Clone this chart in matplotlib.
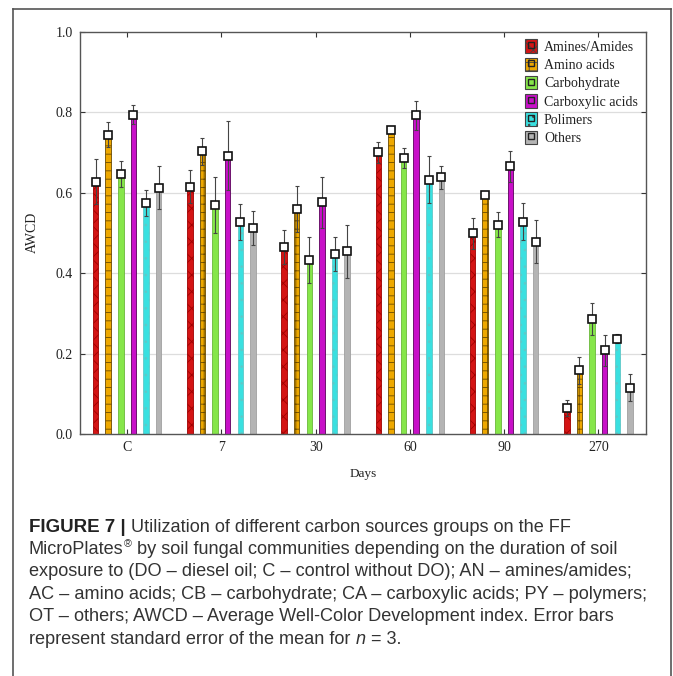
import matplotlib
matplotlib.use("Agg")
import matplotlib.pyplot as plt
import numpy as np
from matplotlib.patches import Patch
from matplotlib.lines import Line2D

# ---------------- data ----------------
days = ["C", "7", "30", "60", "90", "270"]
series_names = ["Amines/Amides", "Amino acids", "Carbohydrate",
                "Carboxylic acids", "Polimers", "Others"]
amines = [0.627, 0.615, 0.464, 0.700, 0.499, 0.065]
amines_err = [0.056, 0.040, 0.042, 0.026, 0.039, 0.020]
amino = [0.744, 0.703, 0.560, 0.756, 0.593, 0.158]
amino_err = [0.031, 0.034, 0.057, 0.006, 0.005, 0.034]
carbo = [0.646, 0.569, 0.433, 0.686, 0.520, 0.285]
carbo_err = [0.032, 0.070, 0.057, 0.026, 0.031, 0.040]
carbox = [0.794, 0.692, 0.576, 0.792, 0.665, 0.208]
carbox_err = [0.023, 0.085, 0.064, 0.036, 0.039, 0.038]
polim = [0.575, 0.526, 0.448, 0.632, 0.527, 0.237]
polim_err = [0.032, 0.045, 0.042, 0.058, 0.046, 0.012]
others = [0.612, 0.512, 0.454, 0.638, 0.478, 0.115]
others_err = [0.053, 0.043, 0.065, 0.029, 0.053, 0.033]

values = [amines, amino, carbo, carbox, polim, others]
errors = [amines_err, amino_err, carbo_err, carbox_err, polim_err, others_err]

colors = ["#d41414", "#eea800", "#86e64a", "#c810c8", "#3ae0e0", "#b4b4b4"]
edges = ["#a00000", "#6a4a00", "#6ab83a", "#5a005a", "#60c8c8", "#a0a0a0"]
hatches = ["xx", "++", None, None, "..", None]

caption_lines = [
    [("FIGURE 7 | ", "bold", "normal"),
     ("Utilization of different carbon sources groups on the FF", "normal", "normal")],
    [("MicroPlates", "normal", "normal"), ("®", "sup", "normal"),
     (" by soil fungal communities depending on the duration of soil", "normal", "normal")],
    [("exposure to (DO – diesel oil; C – control without DO); AN – amines/amides;", "normal", "normal")],
    [("AC – amino acids; CB – carbohydrate; CA – carboxylic acids; PY – polymers;", "normal", "normal")],
    [("OT – others; AWCD – Average Well-Color Development index. Error bars", "normal", "normal")],
    [("represent standard error of the mean for ", "normal", "normal"), ("n", "normal", "italic"),
     (" = 3.", "normal", "normal")],
]

# ---------------- figure ----------------
W, H = 673, 676
fig = plt.figure(figsize=(W / 100, H / 100), dpi=100)
serif = ["Liberation Serif", "DejaVu Serif"]
plt.rcParams["hatch.linewidth"] = 0.6

ax = fig.add_axes([80 / W, 1 - 434 / H, (645.5 - 80) / W, (434 - 31.7) / H])

x = np.arange(len(days))
step = 0.134
width = 0.058
for i, (vals, errs) in enumerate(zip(values, errors)):
    pos = x + (i - 2.5) * step
    ax.bar(pos, vals, width=width, color=colors[i], edgecolor=edges[i],
           hatch=hatches[i], linewidth=0.6, zorder=2)
    ax.errorbar(pos, vals, yerr=errs, fmt="none", ecolor="#444444",
                elinewidth=0.8, capsize=1.5, capthick=0.8, zorder=3)
    ax.plot(pos, vals, "s", markersize=5.5, markerfacecolor="white",
            markeredgecolor="#111111", markeredgewidth=1.2, zorder=4)

ax.set_xlim(-0.5, 5.5)
ax.set_ylim(0, 1.0)
ax.set_xticks(x)
ax.set_xticklabels(days, family=serif, fontsize=10)
ax.set_yticks([0, 0.2, 0.4, 0.6, 0.8, 1.0])
ax.set_yticklabels(["0.0", "0.2", "0.4", "0.6", "0.8", "1.0"], family=serif, fontsize=10)
ax.tick_params(direction="in", length=3.5, width=0.8, top=True, right=True,
               colors="#333333", labelcolor="#222222", pad=5)
for g in [0.2, 0.4, 0.6, 0.8]:
    ax.axhline(g, color="#dddddd", linewidth=0.9, zorder=0)
for s in ax.spines.values():
    s.set_color("#555555")
    s.set_linewidth(1.0)
ax.set_xlabel("Days", family=serif, fontsize=9.5, labelpad=10, color="#222222")
ax.set_ylabel("AWCD", family=serif, fontsize=10, labelpad=12, color="#222222")

handles = []
for i in range(6):
    p = Patch(facecolor=colors[i], edgecolor="#444444", hatch=hatches[i], linewidth=0.8)
    m = Line2D([], [], marker="s", linestyle="none", markersize=4.5,
               markerfacecolor="none", markeredgecolor="#222222", markeredgewidth=1.0)
    handles.append((p, m))
leg = ax.legend(handles, series_names, loc="upper right", bbox_to_anchor=(1.0, 1.0),
                frameon=False, prop={"family": serif, "size": 10},
                handlelength=0.9, handleheight=1.1, handletextpad=0.5,
                labelspacing=0.28, borderaxespad=0.15)
for t in leg.get_texts():
    t.set_color("#222222")

# outer frame
frame_c = "#555555"
fig.add_artist(Line2D([13 / W, 13 / W], [0, 1 - 8.5 / H], transform=fig.transFigure, color=frame_c, lw=1.2))
fig.add_artist(Line2D([13 / W, 671 / W], [1 - 8.5 / H, 1 - 8.5 / H], transform=fig.transFigure, color=frame_c, lw=1.2))
fig.add_artist(Line2D([671 / W, 671 / W], [0, 1 - 8.5 / H], transform=fig.transFigure, color=frame_c, lw=1.2))

# caption
cap_family = ["Liberation Sans", "DejaVu Sans"]
cap_size = 13.1
fig.canvas.draw()
renderer = fig.canvas.get_renderer()
y0 = 527
dy = 22.4
for li, segs in enumerate(caption_lines):
    xp = 29
    yp = 1 - (y0 + li * dy) / H
    for txt, kind, style in segs:
        if kind == "bold":
            t = fig.text(xp / W, yp, txt, family=cap_family, fontsize=cap_size + 0.4,
                         fontweight="bold", color="#222222", va="center")
        elif kind == "sup":
            t = fig.text(xp / W, yp + 5 / H, txt, family=cap_family, fontsize=cap_size * 0.6,
                         color="#333333", va="center")
        else:
            t = fig.text(xp / W, yp, txt, family=cap_family, fontsize=cap_size,
                         style=style, color="#333333", va="center")
        bb = t.get_window_extent(renderer=renderer)
        xp += bb.width

fig.savefig("out.png", dpi=100)
